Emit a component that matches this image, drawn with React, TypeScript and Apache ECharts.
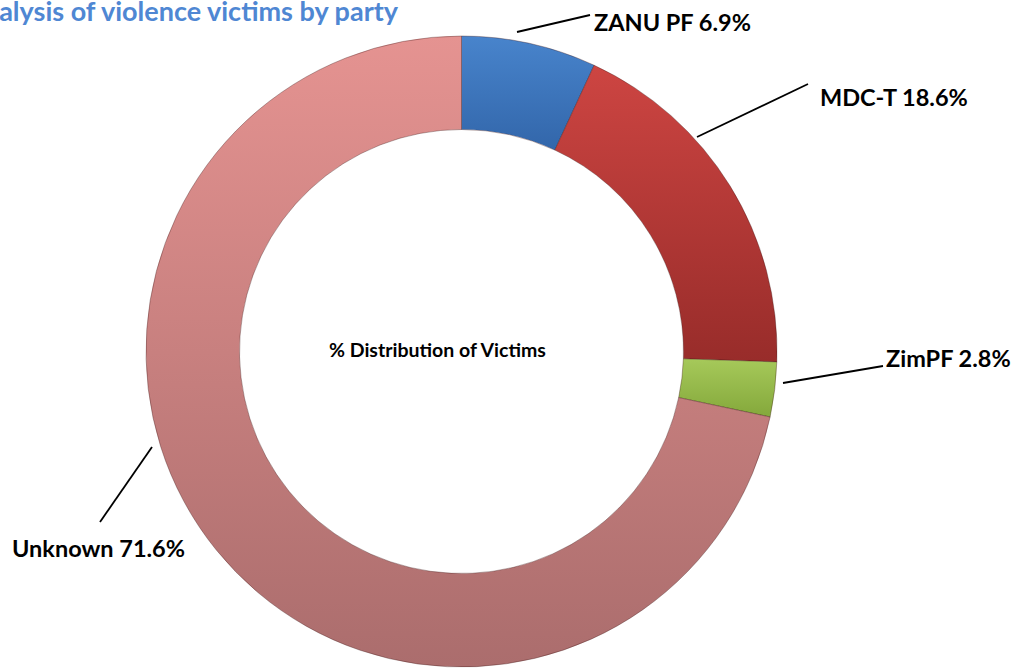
import React, { useEffect, useRef } from 'react';
import * as echarts from 'echarts';

const categories = ['ZANU PF', 'MDC-T', 'ZimPF', 'Unknown'];
const shares = [6.9, 18.6, 2.8, 71.6];
const titleText = 'Analysis of violence victims by party';
const centerText = '% Distribution of Victims';

const sliceColors = [
  ['#4884cc', '#3266aa'],
  ['#cd4542', '#982c2a'],
  ['#a6c95a', '#84a83b'],
  ['#e59391', '#ab6d6d'],
];

// label anchor and leader line (layout only)
const labelSpots = [
  { x: 594, y: 22, line: [[517, 32], [590, 15], [590, 15]] },
  { x: 820, y: 97, line: [[697, 137], [808, 84], [808, 84]] },
  { x: 886, y: 358, line: [[783, 383], [883, 366], [883, 366]] },
  { x: 12, y: 548, line: [[152, 447], [100, 522], [100, 522]] },
];

export default function App() {
  const ref = useRef<HTMLDivElement>(null);
  useEffect(() => {
    if (!ref.current) return;
    const chart = echarts.init(ref.current, null, { renderer: 'svg' });
    const data = categories.map((name, i) => ({
      name,
      value: shares[i],
      itemStyle: {
        color: new echarts.graphic.LinearGradient(0, 0, 0, 1, [
          { offset: 0, color: sliceColors[i][0] },
          { offset: 1, color: sliceColors[i][1] },
        ]),
      },
    }));
    chart.setOption({
      animation: false,
      backgroundColor: '#ffffff',
      graphic: [
        {
          type: 'text',
          x: 398,
          y: 10,
          style: {
            text: titleText,
            align: 'right',
            verticalAlign: 'middle',
            fill: '#4F87D3',
            font: 'bold 27px Lato',
          },
        },
        {
          type: 'text',
          x: 329,
          y: 349,
          style: {
            text: centerText,
            align: 'left',
            verticalAlign: 'middle',
            fill: '#000000',
            font: 'bold 19.5px Lato',
          },
        },
      ],
      series: [
        {
          type: 'pie',
          center: [461.5, 351.5],
          radius: [222, 315.5],
          startAngle: 90,
          clockwise: true,
          avoidLabelOverlap: false,
          emphasis: { disabled: true },
          itemStyle: {
            borderColor: 'rgba(60,20,20,0.35)',
            borderWidth: 1,
          },
          label: {
            show: true,
            position: 'outside',
            formatter: '{b} {c}%',
            color: '#000000',
            fontFamily: 'Lato',
            fontWeight: 'bold',
            fontSize: 23.5,
          },
          labelLine: {
            show: true,
            lineStyle: { color: '#000000', width: 1.8 },
          },
          labelLayout: (params: any) => {
            const s = labelSpots[params.dataIndex];
            return {
              x: s.x,
              y: s.y,
              align: 'left',
              verticalAlign: 'middle',
              labelLinePoints: s.line,
            };
          },
          data,
        },
      ],
    });
    return () => chart.dispose();
  }, []);
  return (
    <div
      ref={ref}
      style={{ position: 'fixed', left: 0, top: 0, width: 1017, height: 670 }}
    />
  );
}
